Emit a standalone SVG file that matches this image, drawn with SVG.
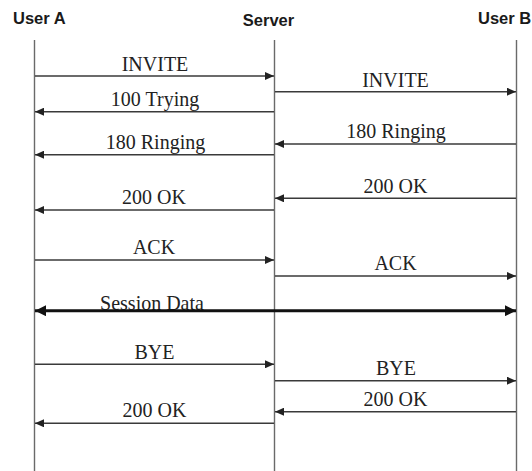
<svg xmlns="http://www.w3.org/2000/svg" width="532" height="471" viewBox="0 0 532 471">
  <defs>
    <style>
      .hdr { font-family: "Liberation Sans", Arial, sans-serif; font-weight: bold; font-size: 16.5px; fill: #1a1a1a; }
      .life { stroke: #6a6a6a; stroke-width: 1.4; fill: none; }
      .msg { stroke: #3a3a3a; stroke-width: 1.6; fill: none; }
      .data { stroke: #111; stroke-width: 3; fill: none; }
      .lbl { font-family: "Liberation Serif", "Times New Roman", serif; font-size: 20px; fill: #222; text-anchor: middle; }
    </style>
    <marker id="arrow" markerUnits="userSpaceOnUse" viewBox="0 0 9 8" refX="9" refY="4" markerWidth="9" markerHeight="8" orient="auto-start-reverse">
      <path d="M0,0 L9,4 L0,8 Z" fill="#222"/>
    </marker>
    <marker id="arrowBold" markerUnits="userSpaceOnUse" viewBox="0 0 11 11" refX="11" refY="5.5" markerWidth="11" markerHeight="11" orient="auto-start-reverse">
      <path d="M0,0 L11,5.5 L0,11 Z" fill="#111"/>
    </marker>
  </defs>

  <rect width="532" height="471" fill="#ffffff"/>

  <!-- participants with their lifelines -->
  <g id="user-a">
    <text class="hdr" x="13" y="24">User A</text>
    <line class="life" x1="34.5" y1="40" x2="34.5" y2="471"/>
  </g>
  <g id="server">
    <text class="hdr" x="268.5" y="25.5" text-anchor="middle">Server</text>
    <line class="life" x1="274.5" y1="40" x2="274.5" y2="471"/>
  </g>
  <g id="user-b">
    <text class="hdr" x="478" y="23.5">User B</text>
    <line class="life" x1="516.5" y1="40" x2="516.5" y2="471"/>
  </g>

  <!-- messages -->
  <g id="connectors">
    <!-- INVITE A -> Server -->
    <line class="msg" x1="35" y1="76" x2="274" y2="76" marker-end="url(#arrow)"/>
    <text class="lbl" transform="translate(155 70.7) scale(1 1.1)">INVITE</text>

    <!-- INVITE Server -> B -->
    <line class="msg" x1="275" y1="91.7" x2="516" y2="91.7" marker-end="url(#arrow)"/>
    <text class="lbl" transform="translate(395.5 86.7) scale(1 1.1)">INVITE</text>

    <!-- 100 Trying Server -> A -->
    <line class="msg" x1="274" y1="111.7" x2="35" y2="111.7" marker-end="url(#arrow)"/>
    <text class="lbl" transform="translate(155 106) scale(1 1.1)">100 Trying</text>

    <!-- 180 Ringing B -> Server -->
    <line class="msg" x1="516" y1="144" x2="275" y2="144" marker-end="url(#arrow)"/>
    <text class="lbl" transform="translate(396 138.3) scale(1 1.1)">180 Ringing</text>

    <!-- 180 Ringing Server -> A -->
    <line class="msg" x1="274" y1="154.7" x2="35" y2="154.7" marker-end="url(#arrow)"/>
    <text class="lbl" transform="translate(155.5 148.5) scale(1 1.1)">180 Ringing</text>

    <!-- 200 OK B -> Server -->
    <line class="msg" x1="516" y1="198.3" x2="275" y2="198.3" marker-end="url(#arrow)"/>
    <text class="lbl" transform="translate(395.5 193.3) scale(1 1.1)">200 OK</text>

    <!-- 200 OK Server -> A -->
    <line class="msg" x1="274" y1="210" x2="35" y2="210" marker-end="url(#arrow)"/>
    <text class="lbl" transform="translate(154 204) scale(1 1.1)">200 OK</text>

    <!-- ACK A -> Server -->
    <line class="msg" x1="35" y1="260" x2="274" y2="260" marker-end="url(#arrow)"/>
    <text class="lbl" transform="translate(154 254) scale(1 1.1)">ACK</text>

    <!-- ACK Server -> B -->
    <line class="msg" x1="275" y1="276" x2="516" y2="276" marker-end="url(#arrow)"/>
    <text class="lbl" transform="translate(395.5 270) scale(1 1.1)">ACK</text>

    <!-- Session Data, both directions A <-> B -->
    <text class="lbl" transform="translate(152 309.5) scale(1 1.1)">Session Data</text>
    <line class="data" x1="35" y1="310.7" x2="516" y2="310.7" marker-start="url(#arrowBold)" marker-end="url(#arrowBold)"/>

    <!-- BYE A -> Server -->
    <line class="msg" x1="35" y1="364.3" x2="274" y2="364.3" marker-end="url(#arrow)"/>
    <text class="lbl" transform="translate(154.5 359.3) scale(1 1.1)">BYE</text>

    <!-- BYE Server -> B -->
    <line class="msg" x1="275" y1="380.7" x2="516" y2="380.7" marker-end="url(#arrow)"/>
    <text class="lbl" transform="translate(396 375) scale(1 1.1)">BYE</text>

    <!-- 200 OK B -> Server -->
    <line class="msg" x1="516" y1="411.7" x2="275" y2="411.7" marker-end="url(#arrow)"/>
    <text class="lbl" transform="translate(395.5 406) scale(1 1.1)">200 OK</text>

    <!-- 200 OK Server -> A -->
    <line class="msg" x1="274" y1="423.3" x2="35" y2="423.3" marker-end="url(#arrow)"/>
    <text class="lbl" transform="translate(154.5 417.3) scale(1 1.1)">200 OK</text>
  </g>
</svg>
